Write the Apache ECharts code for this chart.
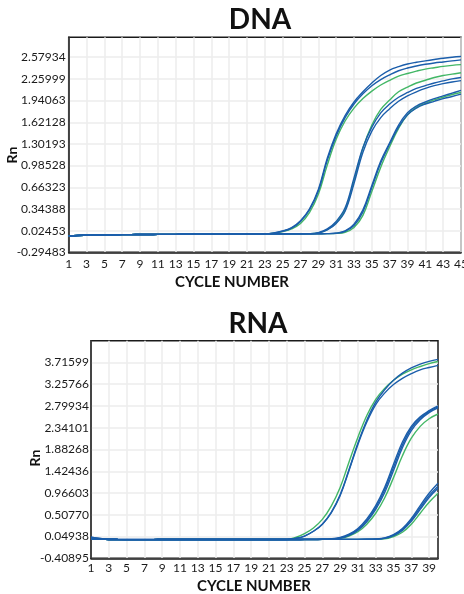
<!DOCTYPE html>
<html>
<head>
<meta charset="utf-8">
<script src="https://cdn.jsdelivr.net/npm/echarts@6/dist/echarts.min.js"></script>
<style>
html,body{margin:0;padding:0;background:#fff;}
#chart{width:464px;height:594px;}
</style>
</head>
<body>
<div id="chart"></div>
<script>
// ---------- DNA ----------
const dnaCycles = Array.from({length: 45}, (_, i) => String(i + 1));
const dnaYTicks = [-0.29483, 0.02453, 0.34388, 0.66323, 0.98528, 1.30193, 1.62128, 1.94063, 2.25999, 2.57934];
// shared flat baseline, cycles 1-22
const dnaBase = [-0.055,-0.047,-0.043,-0.040,-0.038,-0.036,-0.035,-0.034,-0.033,-0.032,-0.031,-0.030,-0.030,-0.029,-0.028,-0.028,-0.027,-0.027,-0.026,-0.026,-0.025,-0.025];
// cycles 23-45
const dnaTopBlue1 = [-0.024,-0.01,0.02,0.07,0.17,0.34,0.63,1.09,1.45,1.72,1.92,2.07,2.20,2.31,2.39,2.44,2.48,2.505,2.525,2.545,2.565,2.58,2.59];
const dnaTopBlue2 = [-0.024,-0.012,0.015,0.06,0.16,0.33,0.61,1.06,1.42,1.69,1.89,2.04,2.16,2.25,2.32,2.38,2.42,2.45,2.475,2.495,2.51,2.525,2.54];
const dnaTopGreen = [-0.024,-0.015,0.01,0.05,0.13,0.29,0.56,0.99,1.37,1.64,1.83,1.97,2.08,2.17,2.24,2.30,2.34,2.375,2.405,2.425,2.445,2.46,2.47];
const dnaMidBlue1 = [-0.024,-0.024,-0.023,-0.023,-0.022,-0.02,-0.005,0.05,0.16,0.36,0.80,1.25,1.55,1.76,1.89,1.99,2.06,2.12,2.16,2.20,2.23,2.26,2.28];
const dnaMidGreen = [-0.024,-0.024,-0.023,-0.023,-0.022,-0.021,-0.01,0.04,0.14,0.33,0.76,1.24,1.58,1.81,1.95,2.07,2.14,2.20,2.24,2.28,2.31,2.33,2.35];
const dnaMidBlue2 = [-0.024,-0.024,-0.023,-0.023,-0.022,-0.021,-0.01,0.035,0.13,0.31,0.72,1.18,1.49,1.69,1.82,1.93,2.01,2.07,2.12,2.16,2.19,2.215,2.235];
const dnaLowBlue1 = [-0.024,-0.024,-0.023,-0.023,-0.022,-0.022,-0.021,-0.02,-0.012,0.02,0.12,0.33,0.69,1.05,1.32,1.58,1.76,1.86,1.92,1.97,2.01,2.05,2.09];
const dnaLowGreen = [-0.024,-0.024,-0.023,-0.023,-0.022,-0.022,-0.021,-0.02,-0.016,0.0,0.07,0.25,0.60,0.96,1.26,1.53,1.73,1.84,1.90,1.95,1.99,2.03,2.06];
const dnaLowBlue2 = [-0.024,-0.024,-0.023,-0.023,-0.022,-0.022,-0.021,-0.02,-0.014,0.015,0.10,0.30,0.66,1.02,1.30,1.55,1.73,1.83,1.89,1.93,1.97,2.00,2.035];

// ---------- RNA ----------
const rnaCycles = Array.from({length: 40}, (_, i) => String(i + 1));
const rnaYTicks = [-0.40895, 0.04938, 0.50770, 0.96603, 1.42436, 1.88268, 2.34101, 2.79934, 3.25766, 3.71599];
// cycles 1-22
const rnaBaseA = [0.035,0.01,-0.005,-0.01,-0.012,-0.013,-0.013,-0.014,-0.014,-0.014,-0.014,-0.013,-0.013,-0.013,-0.013,-0.012,-0.012,-0.012,-0.012,-0.012,-0.012,-0.012];
const rnaBaseB = [-0.005,-0.01,-0.012,-0.014,-0.015,-0.015,-0.015,-0.015,-0.014,-0.014,-0.014,-0.013,-0.013,-0.013,-0.013,-0.012,-0.012,-0.012,-0.012,-0.012,-0.012,-0.012];
// cycles 23-40
const rnaTopGreen = [-0.01,0.03,0.11,0.23,0.41,0.69,1.08,1.62,2.14,2.60,2.94,3.17,3.34,3.47,3.56,3.63,3.69,3.735];
const rnaTopBlue1 = [-0.012,0.01,0.06,0.16,0.31,0.56,0.93,1.46,2.02,2.50,2.88,3.14,3.34,3.49,3.60,3.68,3.74,3.78];
const rnaTopBlue2 = [-0.012,0.01,0.06,0.16,0.31,0.55,0.91,1.44,1.99,2.46,2.83,3.07,3.25,3.38,3.48,3.56,3.61,3.655];
const rnaMidBlue1 = [-0.012,-0.012,-0.011,-0.01,-0.008,0.0,0.03,0.10,0.22,0.42,0.70,1.08,1.57,2.04,2.37,2.57,2.70,2.80];
const rnaMidBlue2 = [-0.012,-0.012,-0.011,-0.01,-0.009,-0.003,0.02,0.085,0.20,0.39,0.66,1.03,1.51,1.98,2.33,2.54,2.68,2.78];
const rnaMidBlue3 = [-0.012,-0.012,-0.011,-0.01,-0.009,-0.004,0.015,0.075,0.18,0.36,0.62,0.97,1.44,1.92,2.28,2.51,2.66,2.76];
const rnaMidGreen = [-0.012,-0.012,-0.011,-0.01,-0.01,-0.005,0.01,0.06,0.15,0.31,0.54,0.86,1.29,1.75,2.12,2.37,2.53,2.63];
const rnaLowBlue1 = [-0.012,-0.012,-0.012,-0.012,-0.011,-0.011,-0.011,-0.01,-0.01,-0.008,-0.003,0.02,0.09,0.22,0.43,0.70,0.96,1.17];
const rnaLowBlue2 = [-0.012,-0.012,-0.012,-0.012,-0.011,-0.011,-0.011,-0.01,-0.01,-0.009,-0.004,0.015,0.08,0.20,0.40,0.66,0.91,1.11];
const rnaLowBlue3 = [-0.012,-0.012,-0.012,-0.012,-0.011,-0.011,-0.011,-0.01,-0.01,-0.009,-0.005,0.01,0.07,0.18,0.37,0.62,0.87,1.065];
const rnaLowGreen = [-0.012,-0.012,-0.012,-0.012,-0.011,-0.011,-0.011,-0.01,-0.01,-0.01,-0.006,0.0,0.05,0.14,0.31,0.54,0.77,0.96];

const BLUE = '#1b5eab';
const GREEN = '#43b766';

const dnaCurves = [
  [dnaTopBlue1, BLUE], [dnaTopBlue2, BLUE], [dnaTopGreen, GREEN],
  [dnaMidBlue1, BLUE], [dnaMidGreen, GREEN], [dnaMidBlue2, BLUE],
  [dnaLowBlue1, BLUE], [dnaLowGreen, GREEN], [dnaLowBlue2, BLUE]
];
const rnaCurves = [
  [rnaBaseB, rnaTopGreen, GREEN], [rnaBaseA, rnaTopBlue1, BLUE], [rnaBaseB, rnaTopBlue2, BLUE],
  [rnaBaseB, rnaMidGreen, GREEN], [rnaBaseB, rnaMidBlue1, BLUE], [rnaBaseA, rnaMidBlue2, BLUE], [rnaBaseB, rnaMidBlue3, BLUE],
  [rnaBaseB, rnaLowGreen, GREEN], [rnaBaseB, rnaLowBlue1, BLUE], [rnaBaseB, rnaLowBlue2, BLUE], [rnaBaseB, rnaLowBlue3, BLUE]
];

const series = [];
dnaCurves.forEach(([tail, color]) => {
  series.push({type: 'line', xAxisIndex: 0, yAxisIndex: 0, data: dnaBase.concat(tail),
    smooth: 0.4, showSymbol: false, symbol: 'none', lineStyle: {color, width: 1.4}, z: color === GREEN ? 2 : 3});
});
rnaCurves.forEach(([base, tail, color]) => {
  series.push({type: 'line', xAxisIndex: 1, yAxisIndex: 1, data: base.concat(tail),
    smooth: 0.4, showSymbol: false, symbol: 'none', lineStyle: {color, width: 1.4}, z: color === GREEN ? 2 : 3});
});

const FONT = 'Lato, "Noto Sans", sans-serif';
const gridLine = {show: true, lineStyle: {color: '#ececec', width: 1.5}};

function xAxis(gridIndex, data, margin) {
  return {
    type: 'category', gridIndex, data, boundaryGap: false,
    axisLine: {show: true, onZero: false, lineStyle: {color: '#1a1a1a', width: 1.5}},
    axisTick: {show: false, interval: 1},
    axisLabel: {interval: 1, margin, color: '#1a1a1a', fontSize: 12, fontFamily: FONT,
      alignMaxLabel: 'center', alignMinLabel: 'center', hideOverlap: false},
    splitLine: Object.assign({interval: 1}, gridLine)
  };
}
function yAxis(gridIndex, ticks, min, max, margin) {
  return {
    type: 'value', gridIndex, min, max,
    axisLine: {show: true, onZero: false, lineStyle: {color: '#1a1a1a', width: 1.5}},
    axisTick: {show: false, customValues: ticks},
    axisLabel: {customValues: ticks, margin, color: '#1a1a1a', fontSize: 12, fontFamily: FONT,
      formatter: v => v.toFixed(5)},
    splitLine: gridLine
  };
}

const chart = echarts.init(document.getElementById('chart'), null, {renderer: 'canvas'});
chart.setOption({
  animation: false,
  backgroundColor: '#fff',
  grid: [
    {left: 68.7, right: 3, top: 37.3, bottom: 341.7, show: true, borderColor: '#1a1a1a', borderWidth: 1.5, backgroundColor: 'transparent', outerBoundsMode: 'none'},
    {left: 91, right: 26, top: 340.7, bottom: 35.7, show: true, borderColor: '#1a1a1a', borderWidth: 1.5, backgroundColor: 'transparent', outerBoundsMode: 'none'}
  ],
  xAxis: [xAxis(0, dnaCycles, 6), xAxis(1, rnaCycles, 4)],
  yAxis: [yAxis(0, dnaYTicks, -0.29483, 2.873, 3), yAxis(1, rnaYTicks, -0.40895, 4.174, 2)],
  graphic: [
    {type: 'text', x: 260, y: 20, style: {text: 'DNA', font: 'bold 28px ' + FONT, fill: '#111', align: 'center', verticalAlign: 'middle'}},
    {type: 'text', x: 258, y: 324, style: {text: 'RNA', font: 'bold 28px ' + FONT, fill: '#111', align: 'center', verticalAlign: 'middle'}},
    {type: 'text', x: 232, y: 282, style: {text: 'CYCLE NUMBER', font: 'bold 15px ' + FONT, fill: '#111', align: 'center', verticalAlign: 'middle'}},
    {type: 'text', x: 254, y: 586, style: {text: 'CYCLE NUMBER', font: 'bold 15px ' + FONT, fill: '#111', align: 'center', verticalAlign: 'middle'}},
    {type: 'text', x: 12, y: 155, rotation: Math.PI / 2, style: {text: 'Rn', font: 'bold 14px ' + FONT, fill: '#111', align: 'center', verticalAlign: 'middle'}},
    {type: 'text', x: 35, y: 458, rotation: Math.PI / 2, style: {text: 'Rn', font: 'bold 14px ' + FONT, fill: '#111', align: 'center', verticalAlign: 'middle'}}
  ],
  series
});
</script>
</body>
</html>
